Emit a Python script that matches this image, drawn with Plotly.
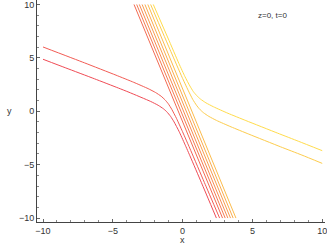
import plotly.graph_objects as go

# Contour curves (data coordinates)
red_x = [-10, -8.37, -6.31, -4.59, -3.84, -2.29, -1.75, -1.36, -1.14, -0.86, -0.61, -0.26, 0.16, 0.56, 1.34, 2.42]
red_y = [4.87, 4.06, 3.04, 2.17, 1.78, 0.92, 0.56, 0.22, -0.04, -0.48, -1.00, -1.87, -3.08, -4.28, -6.66, -10]

salmon_x = [-10, -7.04, -4.77, -3.50, -2.47, -1.93, -1.54, -1.26, -1.03, -0.78, -0.43, -0.01, 0.59, 1.56, 2.65]
salmon_y = [6.02, 4.54, 3.38, 2.71, 2.12, 1.75, 1.41, 1.07, 0.71, 0.19, -0.69, -1.90, -3.69, -6.67, -10]

mid_top_x = [-3.48, -3.29, -3.10, -2.90, -2.70, -2.49]
mid_bot_x = [2.86, 3.05, 3.24, 3.43, 3.62, 3.82]
mid_y = [10, -10]

yel0_x = [-2.29, -0.84, -0.04, 0.39, 0.73, 0.99, 1.21, 1.49, 1.88, 2.43, 3.47, 4.74, 7.02, 8.54, 10]
yel0_y = [10, 5.59, 3.19, 1.98, 1.10, 0.57, 0.21, -0.13, -0.48, -0.86, -1.46, -2.14, -3.33, -4.10, -4.88]

yel1_x = [-2.1, -1.05, -0.26, 0.17, 0.52, 0.77, 1.00, 1.28, 1.67, 2.21, 3.25, 4.53, 6.81, 8.32, 10]
yel1_y = [10, 6.86, 4.46, 3.24, 2.37, 1.84, 1.48, 1.14, 0.79, 0.42, -0.19, -0.87, -2.05, -2.82, -3.69]

x_ticks = [-10, -5, 0, 5, 10]
y_ticks = [-10, -5, 0, 5, 10]

n = 10
def col(i):
    f = i / (n - 1)
    return "rgb(%d,%d,%d)" % (round(240 + 15 * f), round(75 + 145 * f), round(85 - 10 * f))

curves = [(red_x, red_y), (salmon_x, salmon_y)]
for k in range(6):
    curves.append(([mid_top_x[k], mid_bot_x[k]], mid_y))
curves.append((yel0_x, yel0_y))
curves.append((yel1_x, yel1_y))

fig = go.Figure()
for i, (cx, cy) in enumerate(curves):
    fig.add_trace(go.Scatter(x=cx, y=cy, mode="lines",
                             line=dict(color=col(i), width=1, shape="spline", smoothing=0.5),
                             hoverinfo="skip", showlegend=False))

font = dict(family="Liberation Sans, Arial", size=9, color="#333")
axis_common = dict(showgrid=False, zeroline=False, showline=True, linecolor="#444",
                   linewidth=1, ticks="inside", ticklen=3, tickcolor="#666",
                   automargin=False, ticklabeloverflow="allow",
                   tickfont=font,
                   minor=dict(ticks="inside", ticklen=2, dtick=1, tickcolor="#888"))

fig.update_layout(
    width=327, height=245,
    margin=dict(l=37, r=2, t=0, b=23),
    paper_bgcolor="white", plot_bgcolor="white",
    xaxis=dict(range=[-10.43, 10.2], tickvals=x_ticks, **axis_common),
    yaxis=dict(range=[-10.37, 10.42], tickvals=y_ticks, **axis_common),
    annotations=[
        dict(text="x", xref="x", yref="paper", x=0, y=-0.083, showarrow=False,
             font=font, yanchor="middle"),
        dict(text="y", xref="paper", yref="y", x=-0.111, y=0, showarrow=False,
             font=font),
        dict(text="z=0, t=0", xref="paper", yref="paper", x=0.875, y=0.96, showarrow=False,
             font=dict(family="Liberation Sans, Arial", size=8, color="#333")),
    ],
)
fig.write_html("out.html", post_script="document.body.style.margin='0';",
               config={"displayModeBar": False})
